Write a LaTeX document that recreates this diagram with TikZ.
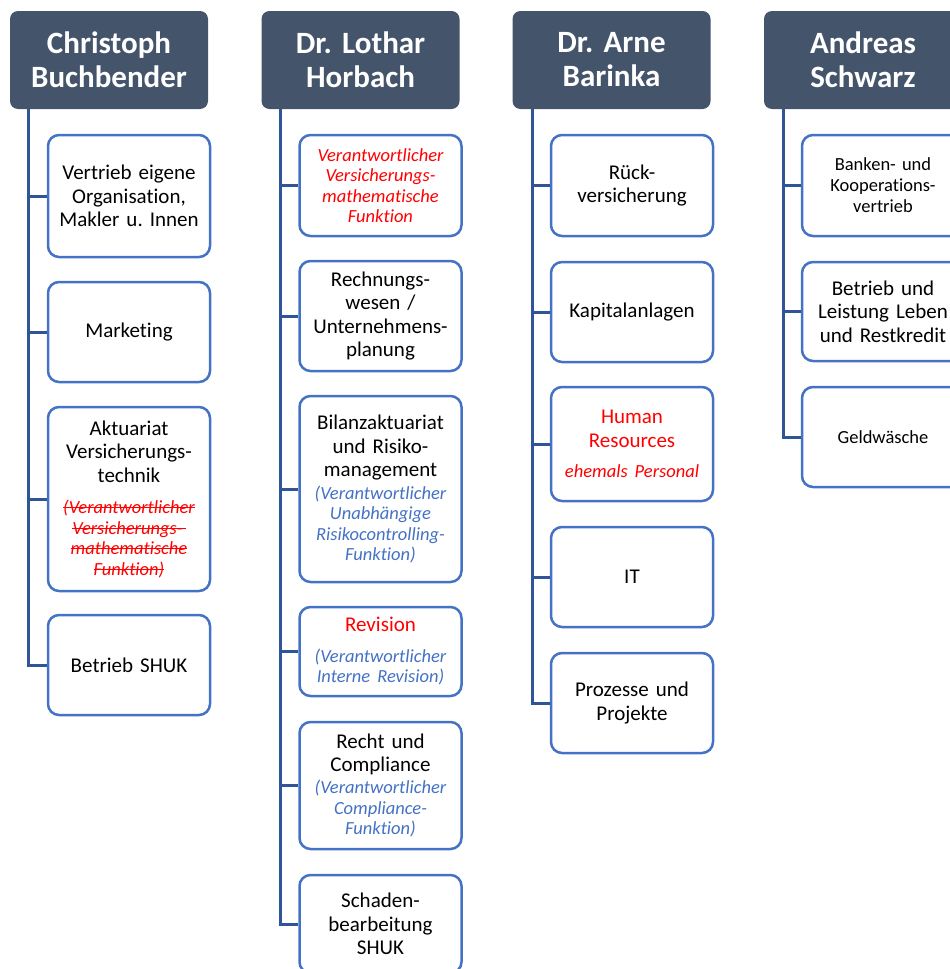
\documentclass[tikz,border=0pt]{standalone}
\usepackage{fontspec}
\setmainfont[Ligatures=NoCommon]{Carlito}
\frenchspacing
\newsavebox\strkbox
\newcommand\strk[1]{\leavevmode\sbox\strkbox{#1}\rlap{\usebox\strkbox}\rule[0.28em]{\wd\strkbox}{1.2pt}}
\definecolor{headgray}{HTML}{44546A}
\definecolor{boxblue}{HTML}{4472C4}
\definecolor{connblue}{HTML}{2F5597}
\definecolor{itblue}{HTML}{4472C4}
\definecolor{myred}{HTML}{FF0000}
\newcommand\bodyf{\fontsize{21}{23.5}\selectfont\frenchspacing}
\newcommand\itf{\fontsize{18.5}{20.5}\selectfont\itshape}
\newcommand\smallf{\fontsize{18.5}{21}\selectfont\frenchspacing}
\newcommand\headf{\fontsize{31}{34}\selectfont\bfseries\frenchspacing}
\begin{document}
\begin{tikzpicture}[x=1pt,y=-1pt,
  headbox/.style={fill=headgray, rounded corners=8pt, minimum width=198pt, minimum height=98pt,
    text width=190pt, align=center, text=white, font=\headf, inner sep=0pt},
  orgbox/.style={draw=boxblue, line width=2.5pt, rounded corners=11pt, fill=white,
    minimum width=162pt, text width=152pt, align=center, inner sep=0pt, font=\bodyf},
  conn/.style={draw=connblue, line width=3pt}]
\useasboundingbox (0,0) rectangle (950,969);
\clip (0,0) rectangle (950,969);

% headers
\node[headbox] (h1) at (109,60) {Christoph\\Buchbender};
\node[headbox] (h2) at (360.5,60) {Dr. Lothar\\Horbach};
\node[headbox] (h3) at (611.5,60) {Dr. Arne\\Barinka};
\node[headbox] (h4) at (863,60) {Andreas\\Schwarz};

% trunk start points
\coordinate (t1) at (28.5,109);
\coordinate (t2) at (280,109);
\coordinate (t3) at (532,109);
\coordinate (t4) at (783,109);

% column 1
\node[orgbox, minimum height=122pt] (c1a) at (129,196) {Vertrieb eigene\\Organisation,\\Makler u. Innen};
\node[orgbox, minimum height=100pt] (c1b) at (129,332) {Marketing};
\node[orgbox, minimum height=184pt] (c1c) at (129,499) {Aktuariat\\Versicherungs-\\technik\par\vspace{11pt}%
  {\itf\color{myred}\strk{(Verantwortlicher}\\\strk{Versicherungs-\,}\\\strk{mathematische}\\\strk{Funktion)}\par}};
\node[orgbox, minimum height=100pt] (c1d) at (129,665) {Betrieb SHUK};

% column 2
\node[orgbox, minimum height=101pt] (c2a) at (380.5,185.5) {{\itf\color{myred}Verantwortlicher\\Versicherungs-\\mathematische\\Funktion\par}};
\node[orgbox, minimum height=110pt] (c2b) at (380.5,316) {Rechnungs-\\wesen /\\Unternehmens-\\planung};
\node[orgbox, minimum height=186pt] (c2c) at (380.5,489) {Bilanzaktuariat\\und Risiko-\\management\par\vspace{2pt}%
  {\itf\color{itblue}(Verantwortlicher\\Unabhängige\\Risikocontrolling-\\Funktion)\par}};
\node[orgbox, minimum height=89pt] (c2d) at (380.5,651.5) {{\color{myred}Revision}\par\vspace{10pt}%
  {\itf\color{itblue}(Verantwortlicher\\Interne Revision)\par}};
\node[orgbox, minimum height=127pt] (c2e) at (380.5,785.5) {Recht und\\Compliance\par\vspace{1.5pt}%
  {\itf\color{itblue}(Verantwortlicher\\Compliance-\\Funktion)\par}};
\node[orgbox, minimum height=98pt] (c2f) at (380.5,924) {Schaden-\\bearbeitung\\SHUK};

% column 3
\node[orgbox, minimum height=101pt] (c3a) at (632,185.5) {Rück-\\versicherung};
\node[orgbox, minimum height=100pt] (c3b) at (632,312) {Kapitalanlagen};
\node[orgbox, minimum height=114pt] (c3c) at (632,444) {{\color{myred}Human\\Resources}\par\vspace{9.5pt}%
  {\itf\color{myred}ehemals Personal\par}};
\node[orgbox, minimum height=100pt] (c3d) at (632,577) {IT};
\node[orgbox, minimum height=100pt] (c3e) at (632,703) {Prozesse und\\Projekte};

% column 4
\node[orgbox, minimum height=101pt, font=\smallf] (c4a) at (883,185.5) {Banken- und\\Kooperations-\\vertrieb};
\node[orgbox, minimum height=99pt] (c4b) at (883,311.5) {Betrieb und\\Leistung Leben\\und Restkredit};
\node[orgbox, minimum height=100pt, font=\smallf] (c4c) at (883,437) {Geldwäsche};

% connectors
\draw[conn] (t1) |- (c1d.west);
\foreach \n in {c1a,c1b,c1c} \draw[conn] (\n.west) -- (\n.west -| t1);
\draw[conn] (t2) |- (c2f.west);
\foreach \n in {c2a,c2b,c2c,c2d,c2e} \draw[conn] (\n.west) -- (\n.west -| t2);
\draw[conn] (t3) |- (c3e.west);
\foreach \n in {c3a,c3b,c3c,c3d} \draw[conn] (\n.west) -- (\n.west -| t3);
\draw[conn] (t4) |- (c4c.west);
\foreach \n in {c4a,c4b} \draw[conn] (\n.west) -- (\n.west -| t4);
\end{tikzpicture}
\end{document}
